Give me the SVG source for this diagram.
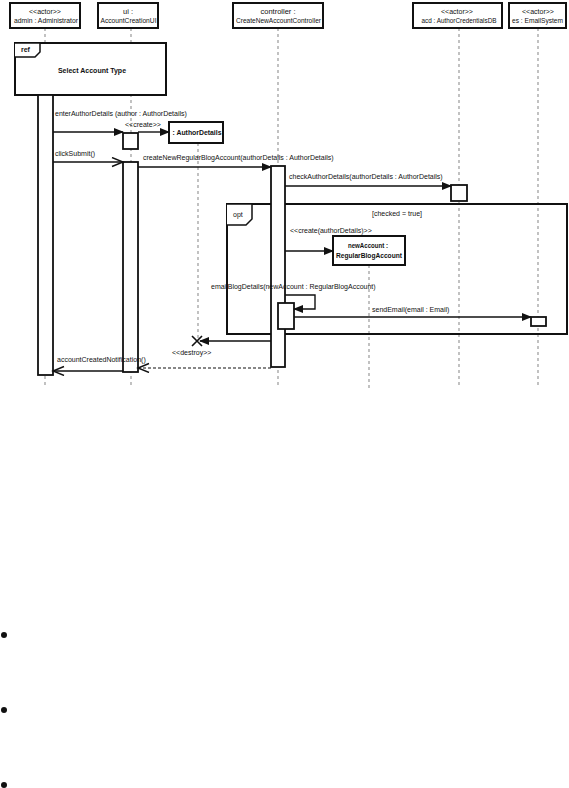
<svg xmlns="http://www.w3.org/2000/svg" width="569" height="788" viewBox="0 0 569 788">
<style>
text{font-family:"Liberation Sans",Arial,sans-serif;font-size:7px;fill:#111}
.c{text-anchor:middle}
.b{font-weight:bold}
.h{font-size:7.5px}
.box{fill:#fff;stroke:#111;stroke-width:2}
.bar{fill:#fff;stroke:#111;stroke-width:1.8}
.life{stroke:#999;stroke-width:1.2;stroke-dasharray:3,3;fill:none}
.msg{stroke:#111;stroke-width:1.4;fill:none}
.ret{stroke:#111;stroke-width:1.2;stroke-dasharray:3,2;fill:none}
.frame{fill:none;stroke:#111;stroke-width:2}
</style>
<defs>
<marker id="fa" markerUnits="userSpaceOnUse" markerWidth="10" markerHeight="8" refX="9" refY="4" orient="auto"><path d="M0,0 L10,4 L0,8 z" fill="#111"/></marker>
<marker id="oa" markerUnits="userSpaceOnUse" markerWidth="14" markerHeight="12" refX="12" refY="5" orient="auto"><path d="M1,0.5 L12,5 L1,9.5" fill="none" stroke="#111" stroke-width="1.4"/></marker>
</defs>
<rect width="569" height="788" fill="#fff"/>

<g id="lifelines">
<line class="life" x1="45" y1="28" x2="45" y2="388"/>
<line class="life" x1="131" y1="28" x2="131" y2="388"/>
<line class="life" x1="278" y1="28" x2="278" y2="388"/>
<line class="life" x1="459" y1="28" x2="459" y2="388"/>
<line class="life" x1="538" y1="28" x2="538" y2="388"/>
<line class="life" x1="198" y1="143" x2="198" y2="338"/>
<line class="life" x1="369" y1="265" x2="369" y2="388"/>
</g>

<g id="admin"><rect class="box" x="10" y="3" width="70" height="25"/><text class="c" x="45" y="14">&lt;&lt;actor&gt;&gt;</text><text class="c h" x="46" y="23" textLength="64" lengthAdjust="spacingAndGlyphs">admin : Administrator</text></g>
<g id="ui"><rect class="box" x="98" y="3" width="60" height="25"/><text class="c h" x="128" y="14">ui :</text><text class="c h" x="128.5" y="23" textLength="56" lengthAdjust="spacingAndGlyphs">AccountCreationUI</text></g>
<g id="controller"><rect class="box" x="233" y="3" width="90" height="25"/><text class="c h" x="278" y="14">controller :</text><text class="c h" x="278.5" y="23" textLength="85" lengthAdjust="spacingAndGlyphs">CreateNewAccountController</text></g>
<g id="acd"><rect class="box" x="413" y="3" width="89" height="25"/><text class="c" x="457" y="14">&lt;&lt;actor&gt;&gt;</text><text class="c h" x="459" y="23" textLength="75" lengthAdjust="spacingAndGlyphs">acd : AuthorCredentialsDB</text></g>
<g id="es"><rect class="box" x="509" y="3" width="57" height="25"/><text class="c" x="538" y="14">&lt;&lt;actor&gt;&gt;</text><text class="c" x="537.5" y="23" style="font-size:6.6px">es : EmailSystem</text></g>

<g id="ref">
<rect class="box" x="15" y="43" width="151" height="52"/>
<path d="M15,43 L40,43 L40,52 L35,57 L15,57" fill="#fff" stroke="#111" stroke-width="1.5"/>
<text x="21" y="52" class="b">ref</text>
<text class="c b" x="92" y="73">Select Account Type</text>
</g>

<g id="opt">
<rect class="frame" x="227" y="204" width="340" height="130"/>
<path d="M227,204 L252,204 L252,219 L246,225 L227,225" fill="#fff" stroke="#111" stroke-width="1.5"/>
<text x="233" y="217">opt</text>
<text class="c" x="397" y="216">[checked = true]</text>
</g>

<g id="bars">
<rect class="bar" x="38" y="95" width="15" height="280"/>
<rect class="bar" x="123" y="133" width="15" height="16"/>
<rect class="bar" x="123" y="162" width="15" height="210"/>
<rect class="bar" x="271" y="166" width="14" height="201"/>
<rect class="bar" x="278" y="303" width="16" height="26"/>
<rect class="bar" x="451" y="185" width="16" height="16"/>
<rect class="bar" x="531" y="317" width="15" height="9"/>
</g>

<g id="authorDetails"><rect class="box" x="169" y="122" width="54" height="21"/><text class="c b" x="197" y="135" textLength="49" lengthAdjust="spacingAndGlyphs">: AuthorDetails</text></g>
<g id="newAccount"><rect class="box" x="333" y="236" width="72" height="29"/><text class="c b" x="368" y="248" textLength="40" lengthAdjust="spacingAndGlyphs">newAccount :</text><text class="c b" x="369" y="258" textLength="66" lengthAdjust="spacingAndGlyphs">RegularBlogAccount</text></g>

<g id="connectors">
<line class="msg" x1="53" y1="132" x2="123" y2="132" marker-end="url(#fa)"/>
<text x="55" y="116">enterAuthorDetails (author : AuthorDetails)</text>
<line class="msg" x1="138" y1="132" x2="169" y2="132" marker-end="url(#fa)"/>
<text x="125" y="127">&lt;&lt;create&gt;&gt;</text>
<line class="msg" x1="53" y1="162" x2="123" y2="162" marker-end="url(#oa)"/>
<text x="55" y="156">clickSubmit()</text>
<line class="msg" x1="138" y1="167" x2="271" y2="167" marker-end="url(#fa)"/>
<text x="143" y="160">createNewRegularBlogAccount(authorDetails : AuthorDetails)</text>
<line class="msg" x1="285" y1="186" x2="451" y2="186" marker-end="url(#fa)"/>
<text x="289" y="179">checkAuthorDetails(authorDetails : AuthorDetails)</text>
<line class="msg" x1="285" y1="251" x2="333" y2="251" marker-end="url(#fa)"/>
<text x="290" y="233">&lt;&lt;create(authorDetails)&gt;&gt;</text>
<path class="msg" d="M285,295 L315,295 L315,309 L294,309" marker-end="url(#fa)"/>
<text x="211" y="289">emailBlogDetails(newAccount : RegularBlogAccount)</text>
<line class="msg" x1="294" y1="317" x2="531" y2="317" marker-end="url(#fa)"/>
<text x="372" y="312">sendEmail(email : Email)</text>
<line class="msg" x1="271" y1="341" x2="200" y2="341" stroke-width="2" marker-end="url(#fa)"/>
<path d="M192,336 L202,346 M202,336 L192,346" stroke="#111" stroke-width="1.6"/>
<text x="172" y="355">&lt;&lt;destroy&gt;&gt;</text>
<line class="ret" x1="271" y1="368" x2="138" y2="368" marker-end="url(#oa)"/>
<line class="msg" x1="123" y1="371" x2="53" y2="371" marker-end="url(#oa)"/>
<text x="57" y="362">accountCreatedNotification()</text>
</g>

<g id="bullets">
<circle cx="4" cy="635" r="3" fill="#111"/>
<circle cx="4" cy="710" r="3" fill="#111"/>
<circle cx="4" cy="785" r="3" fill="#111"/>
</g>
</svg>
